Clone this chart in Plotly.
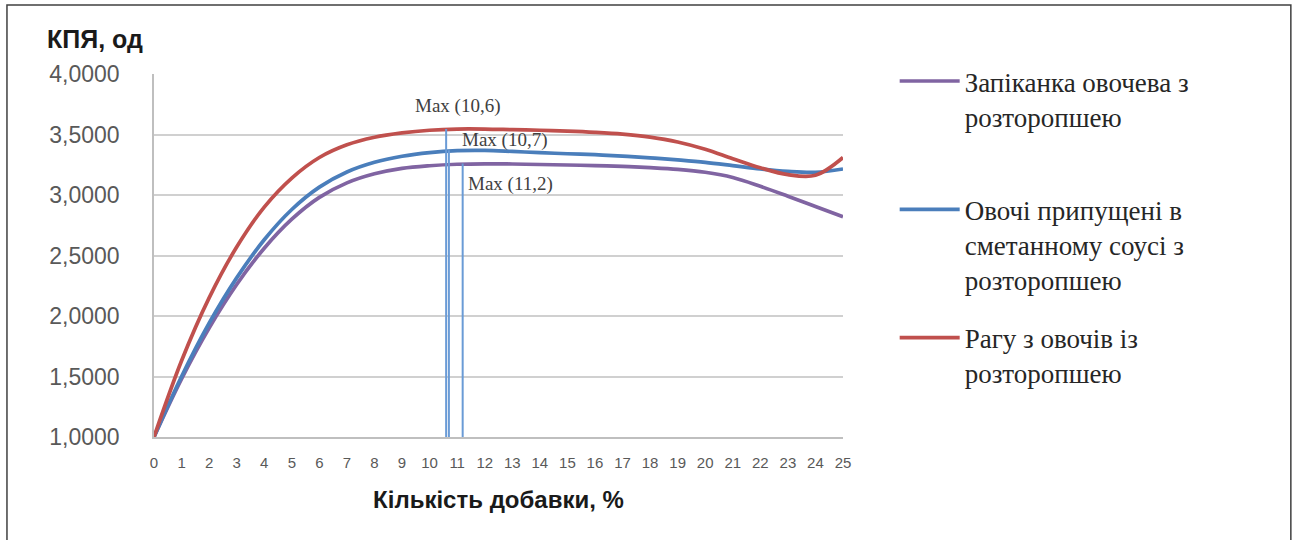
import plotly.graph_objects as go

# Additive amount, %
dose = list(range(0, 26))

# Quality index (КПЯ) for each dish
casserole = [1.00, 1.48, 1.90, 2.26, 2.56, 2.80, 2.98, 3.10, 3.175, 3.22, 3.242, 3.254, 3.258,
             3.256, 3.252, 3.248, 3.243, 3.236, 3.226, 3.212, 3.188, 3.145, 3.072, 2.99, 2.905, 2.82]
sour_cream = [1.00, 1.50, 1.94, 2.315, 2.63, 2.88, 3.065, 3.19, 3.27, 3.32, 3.35, 3.366, 3.368,
              3.36, 3.35, 3.341, 3.333, 3.322, 3.307, 3.29, 3.27, 3.243, 3.215, 3.195, 3.188, 3.215]
ragout = [1.00, 1.63, 2.15, 2.57, 2.90, 3.14, 3.31, 3.415, 3.477, 3.513, 3.535, 3.545, 3.545,
          3.54, 3.535, 3.528, 3.518, 3.503, 3.478, 3.438, 3.378, 3.30, 3.225, 3.168, 3.163, 3.31]

names = [
    "Запіканка овочева з<br>розторопшею<br> ",
    "Овочі припущені в<br>сметанному соусі з<br>розторопшею",
    "Рагу з овочів із<br>розторопшею",
]
colors = ["#8064A2", "#4A7EBB", "#C0504D"]

# Optimum points: dose, value, label
max_x = [10.6, 10.7, 11.2]
max_y = [3.545, 3.37, 3.26]
max_labels = ["Max (10,6)", "Max (10,7)", "Max (11,2)"]
label_shift = [(-33, 23), (11, 10), (3, -20)]

fig = go.Figure()
for i, (ys, nm, col) in enumerate(zip([casserole, sour_cream, ragout], names, colors)):
    fig.add_trace(go.Scatter(
        x=dose, y=ys, mode="lines", name=nm, legendgroup=str(i),
        line=dict(color=col, width=3.7, shape="spline", smoothing=1.0),
    ))

for mx, my, lab, (dx, dy) in zip(max_x, max_y, max_labels, label_shift):
    fig.add_shape(type="line", x0=mx, x1=mx, y0=1.0, y1=my, xref="x", yref="y",
                  line=dict(color="#6A9BD6", width=2))
    fig.add_annotation(x=mx, y=my, xref="x", yref="y", text=lab, showarrow=False,
                       xanchor="left", yanchor="middle", xshift=dx, yshift=dy,
                       font=dict(family="Liberation Serif", size=19, color="#404040"))

# Y-axis heading
fig.add_annotation(x=-0.158, y=1.096, xref="paper", yref="paper", text="<b>КПЯ, од</b>",
                   showarrow=False, xanchor="left", yanchor="middle",
                   font=dict(family="Liberation Sans", size=25, color="#1a1a1a"))

# Outer frame
fig.add_shape(type="rect", xref="paper", yref="paper", x0=-0.2134, x1=1.650, y0=-0.30, y1=1.190,
              line=dict(color="#404040", width=1.5), fillcolor="rgba(0,0,0,0)", layer="below")

fig.update_layout(
    width=1295, height=540,
    margin=dict(l=154, r=452, t=74, b=103),
    paper_bgcolor="white", plot_bgcolor="white",
    separators=", ",
    showlegend=True,
    legend=dict(x=1.075, y=1.047, xanchor="left", yanchor="top",
                font=dict(family="Liberation Serif", size=27, color="#262626"),
                tracegroupgap=20, itemwidth=60, valign="top", maxheight=700,
                bgcolor="rgba(0,0,0,0)"),
    xaxis=dict(range=[0, 25], tickmode="array", tickvals=dose, showgrid=False,
               showline=True, linecolor="#bfbfbf", linewidth=1.5, zeroline=False,
               tickfont=dict(family="Liberation Sans", size=15, color="#595959"),
               ticks="", ticklabelstandoff=11,
               title=dict(text="<b>Кількість добавки, %</b>", standoff=21,
                          font=dict(family="Liberation Sans", size=24, color="#1a1a1a"))),
    yaxis=dict(range=[1, 4], tickmode="array", tickvals=[1, 1.5, 2, 2.5, 3, 3.5, 4],
               tickformat=".4f", showgrid=True, gridcolor="#d0d0d0", gridwidth=1.5,
               showline=True, linecolor="#bfbfbf", linewidth=1.5, zeroline=False,
               tickfont=dict(family="Liberation Sans", size=23, color="#595959"),
               ticks="", ticklabelstandoff=28),
)

fig.write_html("out.html")
